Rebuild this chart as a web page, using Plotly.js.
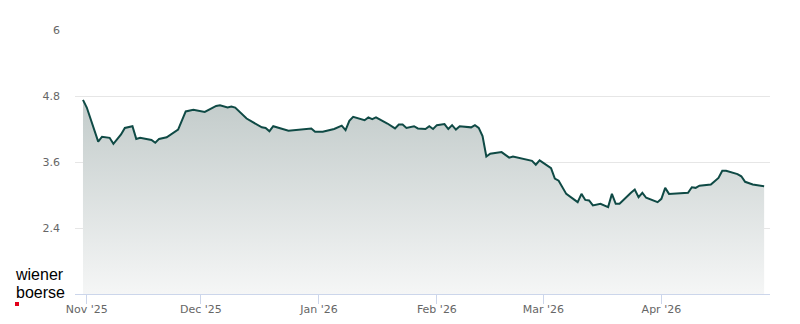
<!DOCTYPE html>
<html>
<head>
<meta charset="utf-8">
<script src="https://cdn.plot.ly/plotly-3.0.1.min.js"></script>
<style>
html,body{margin:0;padding:0;background:#fff;}
#chart{width:800px;height:324px;}
</style>
</head>
<body>
<div id="chart"></div>
<script>
const dates = [
"2025-10-31","2025-11-01","2025-11-04","2025-11-05","2025-11-07","2025-11-08","2025-11-10","2025-11-11",
"2025-11-13","2025-11-14","2025-11-15","2025-11-18","2025-11-19","2025-11-20","2025-11-22","2025-11-25",
"2025-11-27","2025-11-28","2025-11-29","2025-12-02","2025-12-03","2025-12-05","2025-12-06","2025-12-08",
"2025-12-09","2025-12-10","2025-12-13","2025-12-17","2025-12-18","2025-12-19","2025-12-20","2025-12-22",
"2025-12-24","2025-12-30","2025-12-31","2026-01-02","2026-01-05","2026-01-07","2026-01-08","2026-01-09",
"2026-01-10","2026-01-13","2026-01-14","2026-01-15","2026-01-16","2026-01-19","2026-01-21","2026-01-22",
"2026-01-23","2026-01-24","2026-01-26","2026-01-27","2026-01-29","2026-01-30","2026-01-31","2026-02-01",
"2026-02-03","2026-02-04","2026-02-05","2026-02-06","2026-02-07","2026-02-10","2026-02-11","2026-02-12",
"2026-02-13","2026-02-14","2026-02-15","2026-02-18","2026-02-20","2026-02-21","2026-02-23","2026-02-25",
"2026-02-26","2026-02-27","2026-02-28","2026-03-03","2026-03-04","2026-03-05","2026-03-07","2026-03-10",
"2026-03-11","2026-03-12","2026-03-13","2026-03-14","2026-03-16","2026-03-18","2026-03-19","2026-03-20",
"2026-03-21","2026-03-24","2026-03-25","2026-03-26","2026-03-27","2026-03-28","2026-03-31","2026-04-01",
"2026-04-02","2026-04-03","2026-04-08","2026-04-09","2026-04-10","2026-04-11","2026-04-14","2026-04-15",
"2026-04-16","2026-04-17","2026-04-18","2026-04-21","2026-04-22","2026-04-23","2026-04-25","2026-04-28"
];
const prices = [
4.73,4.59,3.97,4.06,4.04,3.93,4.10,4.22,
4.25,4.02,4.04,4.00,3.95,4.02,4.05,4.19,
4.52,4.53,4.55,4.51,4.55,4.62,4.63,4.59,
4.61,4.59,4.39,4.23,4.22,4.16,4.25,4.21,
4.17,4.21,4.15,4.15,4.20,4.26,4.18,4.35,
4.42,4.36,4.41,4.38,4.41,4.30,4.21,4.28,
4.28,4.22,4.25,4.21,4.20,4.25,4.20,4.27,
4.29,4.20,4.27,4.19,4.25,4.23,4.27,4.22,
4.07,3.70,3.75,3.78,3.68,3.70,3.67,3.64,
3.62,3.55,3.63,3.49,3.30,3.26,3.02,2.87,
3.02,2.91,2.90,2.81,2.84,2.78,3.02,2.84,
2.84,3.04,3.10,2.96,3.04,2.95,2.87,2.93,
3.13,3.02,3.04,3.14,3.13,3.17,3.19,3.25,
3.31,3.44,3.44,3.38,3.34,3.24,3.19,3.16
];
const yTicks = [2.4, 3.6, 4.8, 6];
const yRange = [1.2, 6];
const xRange = ["2025-10-28 21:40", "2026-04-29 13:00"];
const logoLines = ["wiener", "boerse"];

const trace = {
  x: dates, y: prices, type: "scatter", mode: "lines",
  line: {color: "#0f4a45", width: 2},
  fill: "tozeroy",
  fillgradient: {type: "vertical", start: 1.2, stop: 4.75,
    colorscale: [[0, "#f5f6f6"], [1, "#c2cbca"]]},
  hoverinfo: "x+y"
};

const logoText = logoLines.map(s => '<span style="font-size:16px">' + s + '</span>').join('<br>');

const layout = {
  width: 800, height: 324,
  margin: {l: 75, r: 30, t: 30, b: 30},
  paper_bgcolor: "#ffffff", plot_bgcolor: "#ffffff",
  showlegend: false,
  font: {family: "DejaVu Sans, sans-serif", size: 11, color: "#666666"},
  xaxis: {
    type: "date", range: xRange,
    tick0: "2025-11-01", dtick: "M1", tickformat: "%b '%y",
    ticks: "outside", ticklen: 9, tickcolor: "#ccd6eb", tickwidth: 1,
    showline: true, linecolor: "#ccd6eb", linewidth: 1,
    showgrid: false, zeroline: false,
    ticklabelstandoff: -4,
    tickfont: {family: "DejaVu Sans, sans-serif", size: 11, color: "#666666"}
  },
  yaxis: {
    range: yRange, tickvals: yTicks, ticktext: yTicks.map(String),
    showgrid: true, gridcolor: "#e6e6e6", gridwidth: 1,
    zeroline: false, showline: false, ticks: "",
    ticklabelstandoff: 14,
    tickfont: {family: "DejaVu Sans, sans-serif", size: 11, color: "#666666"}
  },
  annotations: [
    {text: logoText, xref: "paper", yref: "paper", x: -0.0877, y: 0.0385,
     xanchor: "left", yanchor: "middle", align: "left", showarrow: false, borderpad: 0,
     font: {family: "Liberation Sans, Arial, sans-serif", size: 14, color: "#000000"}}
  ],
  shapes: [
    {type: "rect", xref: "paper", yref: "paper",
     x0: -0.0863, x1: -0.0806, y0: -0.0455, y1: -0.0303,
     fillcolor: "#e2001a", line: {width: 0}}
  ]
};

Plotly.newPlot("chart", [trace], layout, {displayModeBar: false, staticPlot: true});
</script>
</body>
</html>
